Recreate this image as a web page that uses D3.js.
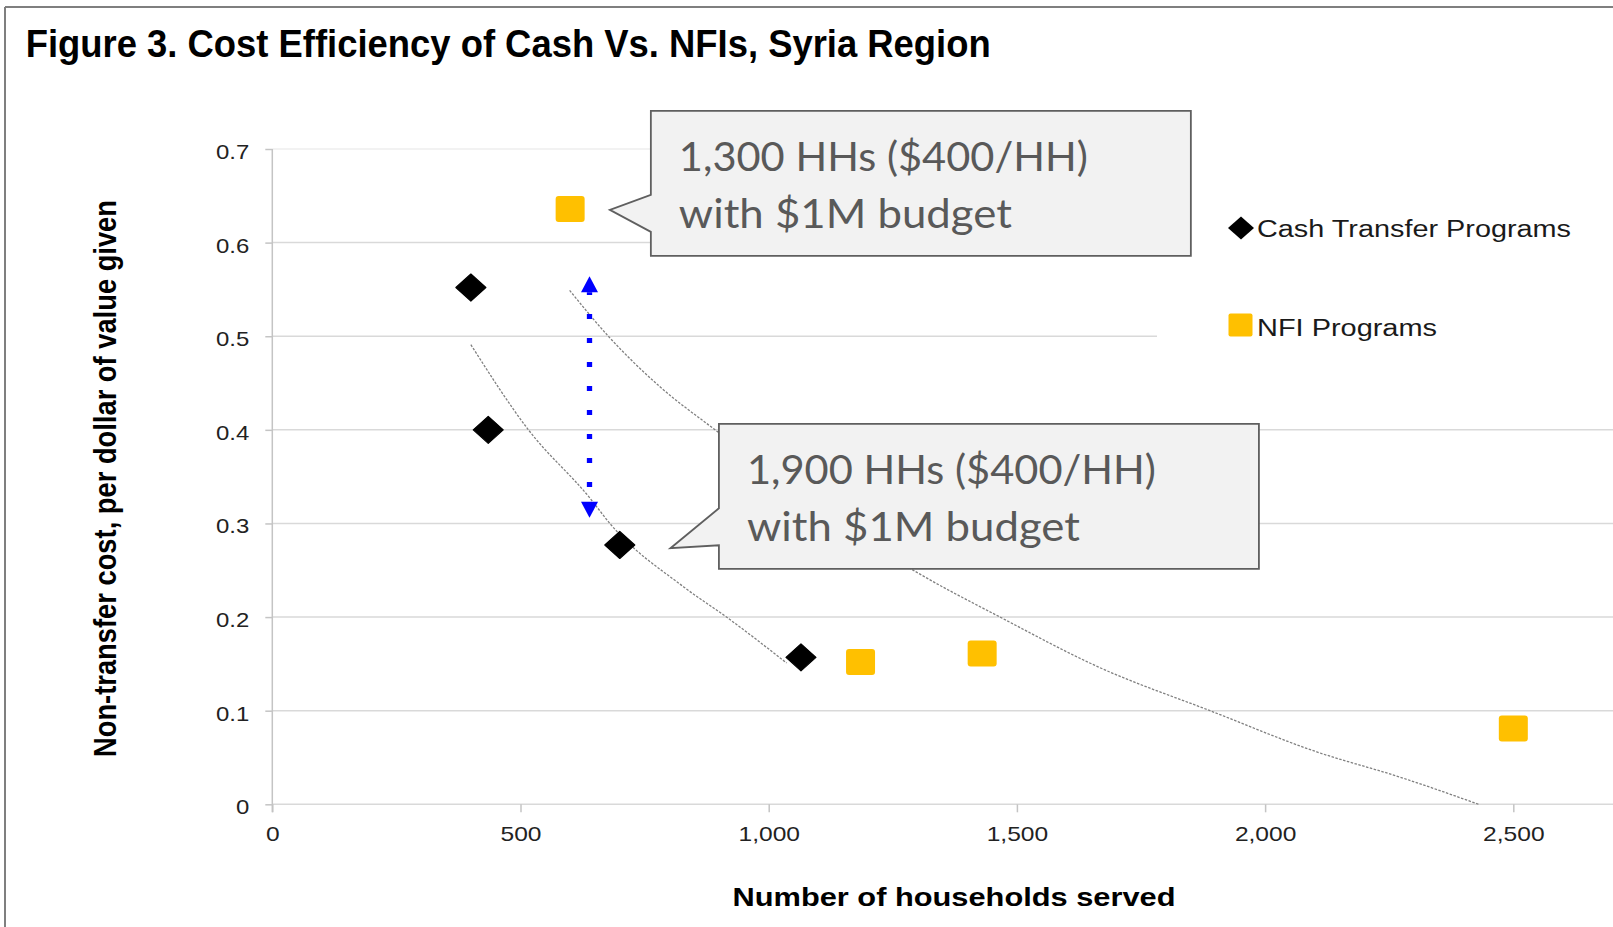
<!DOCTYPE html>
<html>
<head>
<meta charset="utf-8">
<script src="https://cdn.jsdelivr.net/npm/d3@7"></script>
<style>
body { margin: 0; background: #fff; }
svg { display: block; }
</style>
</head>
<body>
<svg id="chart" width="1613" height="927"></svg>
<script>
// values
var cashX = [400, 435, 700, 1065];
var cashY = [0.552, 0.400, 0.277, 0.157];
var nfiX = [600, 1185, 1430, 2500];
var nfiY = [0.636, 0.152, 0.161, 0.081];

// trend lines
var cashTrendX = [400, 516, 640, 680, 828, 915, 1036];
var cashTrendY = [0.491, 0.400, 0.327, 0.300, 0.2325, 0.200, 0.151];
var nfiTrendX = [599, 677, 781, 892, 1301, 1466, 1667, 1889, 2104, 2272, 2430];
var nfiTrendY = [0.549, 0.500, 0.446, 0.400, 0.247, 0.200, 0.146, 0.100, 0.056, 0.029, 0.000];

// blue double arrow between the two trends
var gapX = 639, gapTop = 0.564, gapBottom = 0.306;

var xTicks = [0, 500, 1000, 1500, 2000, 2500];
var yTicks = [0, 0.1, 0.2, 0.3, 0.4, 0.5, 0.6, 0.7];
var seriesNames = ["Cash Transfer Programs", "NFI Programs"];
var titleText = "Figure 3. Cost Efficiency of Cash Vs. NFIs, Syria Region";
var xTitle = "Number of households served";
var yTitle = "Non-transfer cost, per dollar of value given";
var calloutLines = [["1,300 HHs ($400/HH)", "with $1M budget"], ["1,900 HHs ($400/HH)", "with $1M budget"]];
var calloutAt = [[680, 0.635], [802, 0.2735]];

var svg = d3.select("#chart");
var W = 1613, H = 927;

var x = d3.scaleLinear().domain([0, 2700]).range([272.3, 1612.6]);
var y = d3.scaleLinear().domain([0, 0.7]).range([804.3, 149]);

var sans = "'Liberation Sans', Arial, Helvetica, sans-serif";

// stretch text horizontally like the pasted chart
function stretch(sel, k) {
  sel.each(function() {
    var w = this.getComputedTextLength();
    this.setAttribute("textLength", w * k);
    this.setAttribute("lengthAdjust", "spacingAndGlyphs");
  });
}

// frame
svg.append("line").attr("x1", 5).attr("x2", W).attr("y1", 7).attr("y2", 7)
  .attr("stroke", "#7f7f7f").attr("stroke-width", 2);
svg.append("line").attr("x1", 5).attr("x2", 5).attr("y1", 7).attr("y2", H)
  .attr("stroke", "#7f7f7f").attr("stroke-width", 2);

// title
svg.append("text")
  .attr("x", 25.7).attr("y", 57)
  .attr("font-family", sans).attr("font-weight", "bold").attr("font-size", 38)
  .attr("textLength", 965).attr("lengthAdjust", "spacingAndGlyphs")
  .text(titleText);

// gridlines
svg.append("g").selectAll("line").data(yTicks).enter().append("line")
  .attr("x1", x(0)).attr("x2", W)
  .attr("y1", d => y(d)).attr("y2", d => y(d))
  .attr("stroke", d => d === 0.7 ? "#eeeeee" : "#d9d9d9")
  .attr("stroke-width", 1.5);

// y axis
svg.append("line").attr("x1", x(0)).attr("x2", x(0)).attr("y1", y(0.7)).attr("y2", y(0) + 8)
  .attr("stroke", "#c4c4c4").attr("stroke-width", 1.5);

var yAxis = d3.axisLeft(y).tickValues(yTicks).tickSize(7).tickPadding(16)
  .tickFormat(d => d === 0 ? "0" : d3.format(".1f")(d));
var gy = svg.append("g").attr("transform", "translate(" + x(0) + ",0)").call(yAxis);
gy.select(".domain").remove();
gy.selectAll(".tick line").attr("stroke", "#c4c4c4").attr("stroke-width", 1.5);
gy.selectAll(".tick text").attr("font-family", sans).attr("font-size", 21)
  .attr("fill", "#222").attr("dy", "0.45em").call(stretch, 1.14);

var xAxis = d3.axisBottom(x).tickValues(xTicks).tickSize(8).tickPadding(14)
  .tickFormat(d3.format(","));
var gx = svg.append("g").attr("transform", "translate(0," + y(0) + ")").call(xAxis);
gx.select(".domain").remove();
gx.selectAll(".tick line").attr("stroke", "#c4c4c4").attr("stroke-width", 1.5);
gx.selectAll(".tick text").attr("font-family", sans).attr("font-size", 21)
  .attr("fill", "#222").call(stretch, 1.17);

// axis titles
svg.append("text")
  .attr("x", 954).attr("y", 906).attr("text-anchor", "middle")
  .attr("font-family", sans).attr("font-weight", "bold").attr("font-size", 26.5)
  .attr("textLength", 443).attr("lengthAdjust", "spacingAndGlyphs")
  .text(xTitle);

svg.append("text")
  .attr("transform", "translate(116,478.5) scale(1.2,1) rotate(-90)")
  .attr("text-anchor", "middle")
  .attr("font-family", sans).attr("font-weight", "bold").attr("font-size", 25.6)
  .attr("textLength", 557).attr("lengthAdjust", "spacingAndGlyphs")
  .text(yTitle);

// trend lines
var trend = d3.line().x(d => x(d[0])).y(d => y(d[1])).curve(d3.curveMonotoneX);
[[cashTrendX, cashTrendY], [nfiTrendX, nfiTrendY]].forEach(function(t) {
  svg.append("path")
    .datum(d3.zip(t[0], t[1]))
    .attr("d", trend)
    .attr("fill", "none")
    .attr("stroke", "#808080")
    .attr("stroke-width", 1.3)
    .attr("stroke-dasharray", "2.5,1.5");
});

// blue arrow
var ax = x(gapX), aTop = y(gapTop), aBot = y(gapBottom);
svg.append("line")
  .attr("x1", ax).attr("x2", ax).attr("y1", aTop + 16).attr("y2", aBot - 16)
  .attr("stroke", "#0000ff").attr("stroke-width", 5.3)
  .attr("stroke-dasharray", "5,19").attr("stroke-dashoffset", 2.2);
svg.append("path")
  .attr("d", "M" + ax + "," + aTop + "L" + (ax + 8.5) + "," + (aTop + 16) + "L" + (ax - 8.5) + "," + (aTop + 16) + "Z")
  .attr("fill", "#0000ff");
svg.append("path")
  .attr("d", "M" + ax + "," + aBot + "L" + (ax + 8.5) + "," + (aBot - 16) + "L" + (ax - 8.5) + "," + (aBot - 16) + "Z")
  .attr("fill", "#0000ff");

// points
var diamond = "M0,-13.5L15,0L0,13.5L-15,0Z";
svg.append("g").selectAll("path").data(d3.zip(cashX, cashY)).enter().append("path")
  .attr("transform", d => "translate(" + x(d[0]) + "," + y(d[1]) + ")")
  .attr("d", diamond)
  .attr("fill", "#000").attr("stroke", "#000").attr("stroke-width", 1.2)
  .attr("stroke-linejoin", "round");

svg.append("g").selectAll("rect").data(d3.zip(nfiX, nfiY)).enter().append("rect")
  .attr("x", d => x(d[0]) - 14.5).attr("y", d => y(d[1]) - 13)
  .attr("width", 29).attr("height", 26).attr("rx", 3)
  .attr("fill", "#ffc000");

// legend
svg.append("rect").attr("x", 1157).attr("y", 135).attr("width", W - 1157).attr("height", 250)
  .attr("fill", "#fff");
var leg = svg.append("g");
leg.append("path").attr("transform", "translate(1241,228)")
  .attr("d", "M0,-11.5L13,0L0,11.5L-13,0Z").attr("fill", "#000");
leg.append("rect").attr("x", 1228.5).attr("y", 313.5).attr("width", 24).attr("height", 23)
  .attr("rx", 2).attr("fill", "#ffc000");
leg.selectAll("text").data(seriesNames).enter().append("text")
  .attr("x", 1257).attr("y", (d, i) => i === 0 ? 237 : 336)
  .attr("font-family", sans).attr("font-size", 23).attr("fill", "#1a1a1a")
  .attr("textLength", (d, i) => i === 0 ? 314 : 180)
  .attr("lengthAdjust", "spacingAndGlyphs")
  .text(d => d);

// callouts
var boxes = [
  {dx: 41, dy: -99, j1: -15, j2: 22},
  {dx: 48.5, dy: -124.3, j1: -40, j2: -3}
];
calloutAt.forEach(function(c, i) {
  var tx = x(c[0]), ty = y(c[1]), b = boxes[i];
  var left = tx + b.dx, top = ty + b.dy, bw = 540, bh = 145;
  var p = d3.path();
  p.moveTo(left, top);
  p.lineTo(left + bw, top);
  p.lineTo(left + bw, top + bh);
  p.lineTo(left, top + bh);
  p.lineTo(left, ty + b.j2);
  p.lineTo(tx, ty);
  p.lineTo(left, ty + b.j1);
  p.closePath();
  svg.append("path").attr("d", p.toString())
    .attr("fill", "#f2f2f2").attr("stroke", "#5f5f5f").attr("stroke-width", 1.8);
  calloutLines[i].forEach(function(line, k) {
    svg.append("text")
      .attr("x", left + 28).attr("y", top + (k === 0 ? 60 : 117))
      .attr("font-family", "Lato, 'Open Sans', sans-serif").attr("font-size", 41)
      .attr("fill", "#595959")
      .attr("textLength", k === 0 ? 409 : 333).attr("lengthAdjust", "spacingAndGlyphs")
      .text(line);
  });
});
</script>
</body>
</html>
